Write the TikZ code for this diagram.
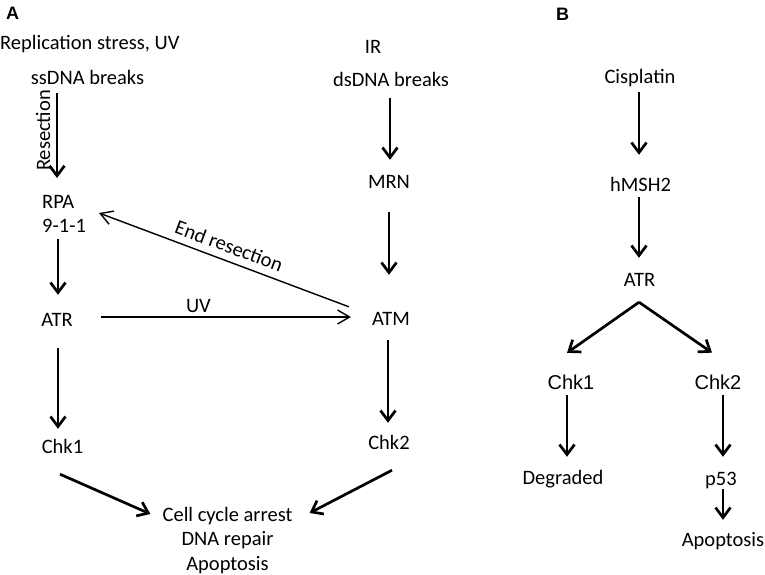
\documentclass[tikz,border=0pt]{standalone}
\usepackage{fontspec}
\setmainfont{Carlito}
\newfontfamily\arialfont{Liberation Sans}
\usetikzlibrary{arrows.meta,calc}
\begin{document}
\begin{tikzpicture}[x=1pt, y=-1pt,
  txt/.style={font=\fontsize{20.5}{25}\selectfont, inner sep=0pt, text height=13pt, text depth=0pt},
  lines/.style={font=\fontsize{20.5}{24.5}\selectfont, inner sep=0pt, align=#1},
  arl/.style={font=\arialfont\fontsize{20}{24}\selectfont, inner sep=0pt, text height=14.3pt, text depth=0pt},
  panel/.style={font=\arialfont\bfseries\fontsize{18}{20}\selectfont, inner sep=0pt},
  fat/.style={line width=2.7pt, -{Straight Barb[length=10pt,width=15pt]}},
  slim/.style={line width=1.4pt, -{Straight Barb[length=12pt,width=14pt]}}]
  \useasboundingbox (0,0) rectangle (765,575);
  % panel A
  \node[panel] (pa) at (12.5,13) {A};
  \node[txt, anchor=west] (repl) at (0,43.5) {Replication stress, UV};
  \node[txt] (ssdna) at (87.5,78) {ssDNA breaks};
  \node[lines=left, anchor=north west] (rpa) at (42,195) {RPA\\9-1-1};
  \node[txt] (atrA) at (57,319.5) {ATR};
  \node[txt] (chkA) at (62.5,447) {Chk1};
  \node[lines=center, anchor=north] (cell) at (227.5,507) {Cell cycle arrest\\DNA repair\\Apoptosis};
  \node[txt] (ir) at (373,47) {IR};
  \node[txt] (dsdna) at (391,80) {dsDNA breaks};
  \node[txt] (mrn) at (389,182) {MRN};
  \node[txt] (atm) at (391,319) {ATM};
  \node[txt] (chkB) at (389,443) {Chk2};
  \draw[fat] ($(ssdna.south)+(-30.5,8.5)$) -- ($(rpa.north west)+(15,-17)$)
    node[txt, pos=0.44, rotate=90, anchor=south, outer sep=7pt] {Resection};
  \draw[fat] ($(rpa.south west)+(16,5.5)$) -- ($(atrA.north)+(1,-18)$);
  \draw[fat] ($(atrA.south)+(1,22)$) -- ($(chkA.north)+(-4.5,-11.5)$);
  \draw[fat] ($(chkA.south)+(-2.5,20.5)$) -- ($(cell.north west)+(-12,7)$);
  \draw[fat] ($(chkB.south)+(3,20.5)$) -- ($(cell.north east)+(17,6)$);
  \draw[fat] ($(dsdna.south)+(-1,11.5)$) -- ($(mrn.north)+(1,-15.5)$);
  \draw[fat] ($(mrn.south)+(0,23.5)$) -- ($(atm.north)+(-2,-37.5)$);
  \draw[fat] ($(atm.south)+(-3,14.5)$) -- ($(chkB.north)+(-1,-13.5)$);
  \draw[slim] ($(atrA.east)+(28,-2.5)$) -- ($(atm.west)+(-21,-2)$)
    node[txt, pos=0.39, above=4pt] {UV};
  \draw[slim] ($(atm.north west)+(-23,-5.5)$) -- ($(rpa.north west)+(57,18)$)
    node[txt, pos=0.5, sloped, above=7pt] {End resection};
  % panel B
  \node[panel] (pb) at (562.5,14) {B};
  \node[txt] (cis) at (640,77) {Cisplatin};
  \node[txt] (msh) at (640.5,185) {hMSH2};
  \node[txt] (atrB) at (639.5,280) {ATR};
  \node[arl] (chk1) at (571,382.5) {Chk1};
  \node[arl] (chk2) at (718,382) {Chk2};
  \node[txt] (degr) at (563,478) {Degraded};
  \node[txt] (p53) at (721,478.5) {p53};
  \node[txt] (apop) at (723,540) {Apoptosis};
  \draw[fat] ($(cis.south)+(-1,8.5)$) -- ($(msh.north)+(-1.5,-23.5)$);
  \draw[fat] ($(msh.south)+(-1.5,5.5)$) -- ($(atrB.north)+(-0.5,-15.5)$);
  \draw[fat] ($(atrB.south)+(-0.5,15.5)$) -- ($(chk1.north)+(-4,-22.3)$);
  \draw[fat] ($(atrB.south)+(-0.5,15.5)$) -- ($(chk2.north)+(-6,-22)$);
  \draw[fat] ($(chk1.south)+(-4,5.3)$) -- ($(degr.north)+(4,-14.5)$);
  \draw[fat] ($(chk2.south)+(5,6)$) -- ($(p53.north)+(2,-15)$);
  \draw[fat] ($(p53.south)+(2,4)$) -- ($(apop.north)+(0,-13.5)$);
\end{tikzpicture}
\end{document}
